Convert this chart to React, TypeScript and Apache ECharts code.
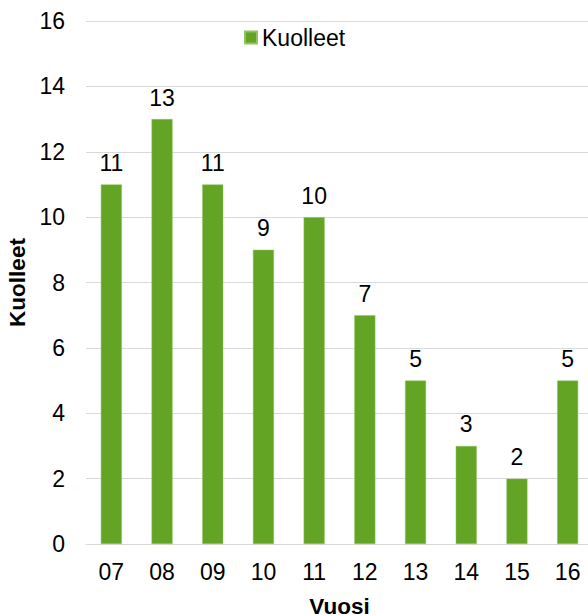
import React, { useEffect, useRef } from "react";
import * as echarts from "echarts";

const categories = ["07", "08", "09", "10", "11", "12", "13", "14", "15", "16"];
const kuolleet = [11, 13, 11, 9, 10, 7, 5, 3, 2, 5];
const seriesName = "Kuolleet";
const xTitle = "Vuosi";
const yTitle = "Kuolleet";

export default function App() {
  const ref = useRef<HTMLDivElement>(null);
  useEffect(() => {
    if (!ref.current) return;
    const chart = echarts.init(ref.current, null, { renderer: "svg" });
    const font = "Liberation Sans, Arial, sans-serif";
    chart.setOption({
      animation: false,
      textStyle: { fontFamily: font },
      grid: { left: 86, right: -5, top: 21, bottom: 71, outerBoundsMode: "none", containLabel: false },
      legend: {
        left: 244,
        top: 26,
        padding: 0,
        itemWidth: 12,
        itemHeight: 12,
        icon: "rect",
        textStyle: { fontSize: 23, color: "#000", fontFamily: font },
        data: [seriesName],
      },
      xAxis: {
        type: "category",
        data: categories,
        name: xTitle,
        nameLocation: "middle",
        nameGap: 51,
        nameTextStyle: { fontSize: 22.5, fontWeight: "bold", color: "#000", fontFamily: font },
        axisLine: { lineStyle: { color: "#D9D9D9", width: 1 } },
        axisTick: { show: false },
        axisLabel: { fontSize: 23, color: "#000", margin: 16, fontFamily: font },
      },
      yAxis: {
        type: "value",
        min: 0,
        max: 16,
        interval: 2,
        name: yTitle,
        nameLocation: "middle",
        nameGap: 55,
        nameRotate: 90,
        nameTextStyle: { fontSize: 22.5, fontWeight: "bold", color: "#000", fontFamily: font },
        axisLine: { show: false },
        axisTick: { show: false },
        axisLabel: { fontSize: 23, color: "#000", margin: 21, fontFamily: font },
        splitLine: { lineStyle: { color: "#D9D9D9", width: 1 } },
      },
      series: [
        {
          name: seriesName,
          type: "bar",
          data: kuolleet,
          barWidth: 21,
          itemStyle: { color: "#63A425", borderColor: "#8FC45E", borderWidth: 0.5 },
          label: {
            show: true,
            position: "top",
            distance: 10,
            fontSize: 23,
            color: "#000",
            fontFamily: font,
          },
        },
      ],
    });
    return () => chart.dispose();
  }, []);
  return (
    <div
      ref={ref}
      style={{ position: "fixed", left: 0, top: 0, width: 588, height: 615, background: "#fff" }}
    />
  );
}
